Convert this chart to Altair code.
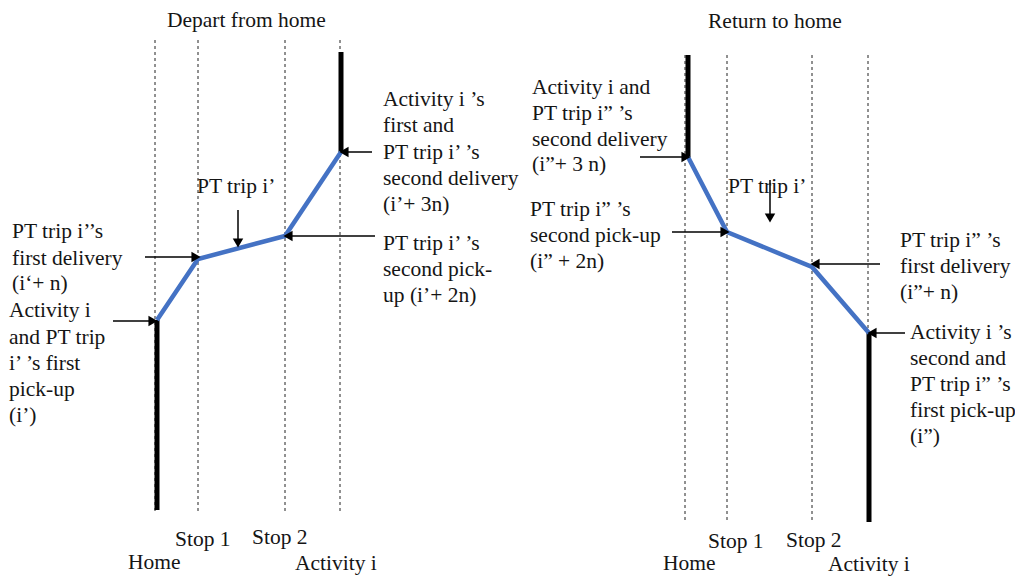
import altair as alt
import pandas as pd

# ---- diagram geometry (reference pixel space) ----
# vertical dashed guides: (x, top, bottom)
guide_x = [155, 198, 285, 340, 685, 727, 812, 868]
guide_top = [40, 40, 40, 40, 55, 55, 55, 55]
guide_bottom = [513, 513, 513, 513, 522, 522, 522, 522]

# thick black dwell bars: x, y_top, y_bottom
bar_x = [157, 341, 688, 869]
bar_top = [320, 52, 55, 333]
bar_bottom = [510, 152, 157, 522]

# blue trajectories
left_path_x = [157, 198, 285, 341]
left_path_y = [320, 259, 236, 152]
right_path_x = [688, 727, 812, 869]
right_path_y = [157, 232, 267, 333]

# arrows: start (x,y) -> tip (x,y), head shape
arrow_x1 = [145, 113, 238, 375, 372, 640, 672, 770, 880, 905]
arrow_y1 = [257, 321, 210, 236, 152, 157, 232, 180, 264, 333]
arrow_x2 = [196, 153, 238, 288, 344, 686, 725, 770, 815, 872]
arrow_y2 = [257, 321, 243, 236, 152, 157, 232, 218, 264, 333]
arrow_head = ["triangle-right", "triangle-right", "triangle-down", "triangle-left",
              "triangle-left", "triangle-right", "triangle-right", "triangle-down",
              "triangle-left", "triangle-left"]

# text labels
label_text = [
    "Depart from home", "Return to home",
    "PT trip i’’s", "first delivery", "(i‘+ n)",
    "Activity i", "and PT trip", "i’ ’s first", "pick-up", "(i’)",
    "PT trip i’",
    "Activity i ’s", "first and", "PT trip i’ ’s", "second delivery", "(i’+ 3n)",
    "PT trip i’ ’s", "second pick-", "up (i’+ 2n)",
    "Stop 1", "Stop 2", "Home", "Activity i",
    "Activity i and", "PT trip i” ’s", "second delivery", "(i”+ 3 n)",
    "PT trip i” ’s", "second pick-up", "(i” + 2n)",
    "PT trip i’",
    "PT trip i” ’s", "first delivery", "(i”+ n)",
    "Activity i ’s", "second and", "PT trip i” ’s", "first pick-up", " (i”)",
    "Stop 1", "Stop 2", "Home", "Activity i",
]
label_x = [
    167, 708,
    12, 12, 12,
    9, 9, 9, 9, 9,
    197,
    383, 383, 383, 383, 383,
    383, 383, 383,
    175, 252, 128, 295,
    532, 532, 532, 532,
    530, 530, 530,
    728,
    900, 900, 900,
    910, 910, 910, 910, 910,
    708, 786, 663, 828,
]
label_y = [
    21, 22,
    232, 259, 284,
    311, 338, 364, 390, 416,
    187,
    100, 126, 153, 179, 205,
    244, 270, 296,
    540, 538, 563, 564,
    88, 114, 140, 165,
    210, 236, 262,
    187,
    241, 267, 293,
    333, 359, 385, 411, 437,
    542, 541, 564, 565,
]

guides = pd.DataFrame({"x": guide_x, "y": guide_top, "y2": guide_bottom})
bars = pd.DataFrame({"x": bar_x, "y": bar_top, "y2": bar_bottom})
paths = pd.DataFrame({
    "x": left_path_x + right_path_x,
    "y": left_path_y + right_path_y,
    "side": ["left"] * 4 + ["right"] * 4,
    "order": list(range(4)) * 2,
})
arrows = pd.DataFrame({"x": arrow_x1, "y": arrow_y1, "x2": arrow_x2, "y2": arrow_y2,
                       "head": arrow_head})
labels = pd.DataFrame({"x": label_x, "y": label_y, "text": label_text})

W, H = 1007, 570
xs = alt.Scale(domain=[8, 8 + W], nice=False, zero=False)
ys = alt.Scale(domain=[8, 8 + H], range=[0, H], nice=False, zero=False)
X = lambda f="x": alt.X(f"{f}:Q", scale=xs, axis=None)
Y = lambda f="y": alt.Y(f"{f}:Q", scale=ys, axis=None)

guide_layer = alt.Chart(guides).mark_rule(
    color="#222", strokeWidth=1, strokeDash=[3, 3]
).encode(x=X(), y=Y(), y2="y2:Q")

bar_layer = alt.Chart(bars).mark_rule(color="black", strokeWidth=5).encode(
    x=X(), y=Y(), y2="y2:Q")

path_layer = alt.Chart(paths).mark_line(color="#4472C4", strokeWidth=4.5).encode(
    x=X(), y=Y(), detail="side:N", order="order:Q")

arrow_layer = alt.Chart(arrows).mark_rule(color="black", strokeWidth=1.5).encode(
    x=X(), y=Y(), x2="x2:Q", y2="y2:Q")

head_layer = alt.Chart(arrows).mark_point(
    filled=True, color="black", size=110, opacity=1
).encode(
    x=X("x2"), y=Y("y2"),
    shape=alt.Shape("head:N", scale=alt.Scale(
        domain=["triangle-right", "triangle-left", "triangle-down"],
        range=["triangle-right", "triangle-left", "triangle-down"]), legend=None),
)

text_layer = alt.Chart(labels).mark_text(
    align="left", baseline="middle", font="Liberation Serif, Times New Roman, serif",
    fontSize=21.5, color="#151515"
).encode(x=X(), y=Y(), text="text:N")

chart = alt.layer(
    guide_layer, bar_layer, path_layer, arrow_layer, head_layer, text_layer
).properties(
    width=W, height=H, padding=0, background="white",
    autosize=alt.AutoSizeParams(type="none"),
).configure_view(stroke=None)

chart.save("out.html", embed_options={"renderer": "svg", "actions": False})
